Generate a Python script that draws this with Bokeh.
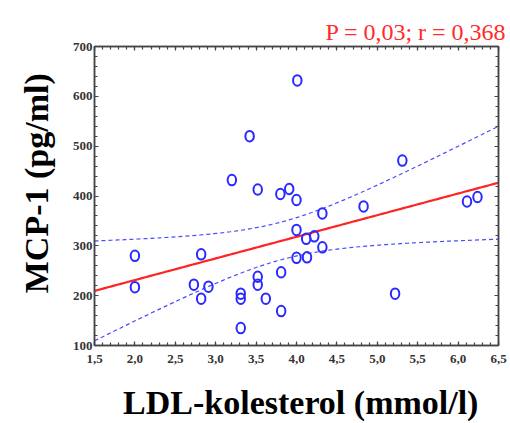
import numpy as np
from bokeh.plotting import figure
from bokeh.models import (Range1d, FixedTicker, LinearAxis, ColumnDataSource,
                          CustomLabelingPolicy, Title)
from bokeh.embed import file_html
from bokeh.resources import INLINE

# ---- data ----
ldl = [2.0, 2.0, 2.82, 2.73, 2.91, 2.82, 3.2, 3.52, 3.8, 3.91, 4.0, 4.32, 4.0, 4.12,
       4.22, 4.32, 4.0, 4.13, 3.81, 3.52, 3.52, 3.31, 3.31, 3.62, 3.81, 3.31, 4.01,
       3.42, 5.31, 4.83, 6.11, 6.24, 5.22]
mcp1 = [280, 217, 283, 222, 218, 194, 432, 413, 404, 414, 392, 365, 332, 314,
        319, 297, 276, 277, 247, 238, 222, 204, 194, 194, 169, 135, 632,
        520, 471, 379, 389, 398, 204]

x_ticks = [1.5, 2.0, 2.5, 3.0, 3.5, 4.0, 4.5, 5.0, 5.5, 6.0, 6.5]
x_tick_labels = ["1,5", "2,0", "2,5", "3,0", "3,5", "4,0", "4,5", "5,0", "5,5", "6,0", "6,5"]
y_ticks = [100, 200, 300, 400, 500, 600, 700]
y_tick_labels = ["100", "200", "300", "400", "500", "600", "700"]
x_minor = [round(1.5 + 0.1 * i, 2) for i in range(51)]
y_minor = [100 + 20 * i for i in range(31)]

title_text = "P = 0,03; r = 0,368"
x_label = "LDL-kolesterol (mmol/l)"
y_label = "MCP-1 (pg/ml)"

# ---- regression and 95% confidence band of the fit ----
xa = np.array(ldl, dtype=float)
ya = np.array(mcp1, dtype=float)
n = len(xa)
slope, intercept = np.polyfit(xa, ya, 1)
resid = ya - (intercept + slope * xa)
s = np.sqrt(np.sum(resid ** 2) / (n - 2))
sxx = np.sum((xa - xa.mean()) ** 2)
t_crit = 2.0395  # t(0.975, df=31)
xf = np.linspace(x_ticks[0], x_ticks[-1], 120)
yf = intercept + slope * xf
half = t_crit * s * np.sqrt(1.0 / n + (xf - xa.mean()) ** 2 / sxx)

SERIF = "Liberation Serif"
FRAME = "#444444"
NBSP = "\u00a0"

p = figure(width=510, height=423, output_backend="svg", toolbar_location=None,
           x_range=Range1d(x_ticks[0], x_ticks[-1]), y_range=Range1d(y_ticks[0], y_ticks[-1]),
           min_border_left=94, min_border_right=12, min_border_top=46, min_border_bottom=78)
p.xgrid.visible = False
p.ygrid.visible = False
p.outline_line_color = FRAME
p.outline_line_width = 1.5
p.background_fill_color = "white"
p.border_fill_color = "white"

# title (top right, red)
p.title.text = title_text
p.title.align = "right"
p.title.offset = -8
p.title.text_font = SERIF
p.title.text_font_style = "normal"
p.title.text_font_size = "24px"
p.title.text_color = "#ff2a2a"
p.title.standoff = 4

xticker = FixedTicker(ticks=x_ticks, minor_ticks=x_minor)
yticker = FixedTicker(ticks=y_ticks, minor_ticks=y_minor)

no_labels = CustomLabelingPolicy(code="""
const all = [...indices]
for (const i of all) indices.unset(i)
return indices
""")


def style_axis(ax, show_labels):
    ax.axis_line_color = FRAME
    ax.axis_line_width = 1.5
    ax.major_tick_line_color = FRAME
    ax.minor_tick_line_color = FRAME
    ax.major_tick_in = 4
    ax.major_tick_out = 0
    ax.minor_tick_in = 3
    ax.minor_tick_out = 0
    ax.major_tick_line_width = 1.2
    ax.minor_tick_line_width = 1.2
    if show_labels:
        ax.major_label_text_font = SERIF
        ax.major_label_text_font_style = "bold"
        ax.major_label_text_font_size = "13px"
        ax.major_label_text_color = "#333333"
        ax.axis_label_text_font = SERIF
        ax.axis_label_text_font_style = "bold"
        ax.axis_label_text_color = "black"
    else:
        ax.major_label_policy = no_labels
        ax.major_label_text_font_size = "0px"
        ax.major_label_standoff = 0
        ax.axis_label_standoff = 0


xa_ax = p.xaxis[0]
xa_ax.ticker = xticker
xa_ax.major_label_overrides = {float(t): l for t, l in zip(x_ticks, x_tick_labels)}
style_axis(xa_ax, True)
xa_ax.major_label_standoff = 9
xa_ax.axis_label = NBSP + x_label
xa_ax.axis_label_text_font_size = "34px"
xa_ax.axis_label_text_line_height = 0.8
xa_ax.axis_label_standoff = 18

ya_ax = p.yaxis[0]
ya_ax.ticker = yticker
ya_ax.major_label_overrides = {float(t): l for t, l in zip(y_ticks, y_tick_labels)}
style_axis(ya_ax, True)
ya_ax.major_label_standoff = 2
ya_ax.axis_label = NBSP * 3 + y_label
ya_ax.axis_label_text_font_size = "34px"
ya_ax.axis_label_standoff = 15

top_ax = LinearAxis(ticker=FixedTicker(ticks=x_ticks, minor_ticks=x_minor))
style_axis(top_ax, False)
p.add_layout(top_ax, "above")
# thin empty spacer between the title and the frame
p.add_layout(Title(text=NBSP, text_font_size="10px", standoff=0, text_alpha=0), "above")
right_ax = LinearAxis(ticker=FixedTicker(ticks=y_ticks, minor_ticks=y_minor))
style_axis(right_ax, False)
p.add_layout(right_ax, "right")

band = ColumnDataSource(dict(x=xf, fit=yf, lo=yf - half, hi=yf + half))
p.line("x", "hi", source=band, line_color="#4a4aff", line_width=1.2, line_dash="4 3")
p.line("x", "lo", source=band, line_color="#4a4aff", line_width=1.2, line_dash="4 3")
p.line("x", "fit", source=band, line_color="#ff2424", line_width=2.2)

pts = ColumnDataSource(dict(x=ldl, y=mcp1))
p.ellipse(x="x", y="y", width=8.5, height=10.5, width_units="screen", height_units="screen",
          source=pts, fill_color=None, line_color="#2a2aff", line_width=2)

open("out.html", "w").write(file_html(p, INLINE))
